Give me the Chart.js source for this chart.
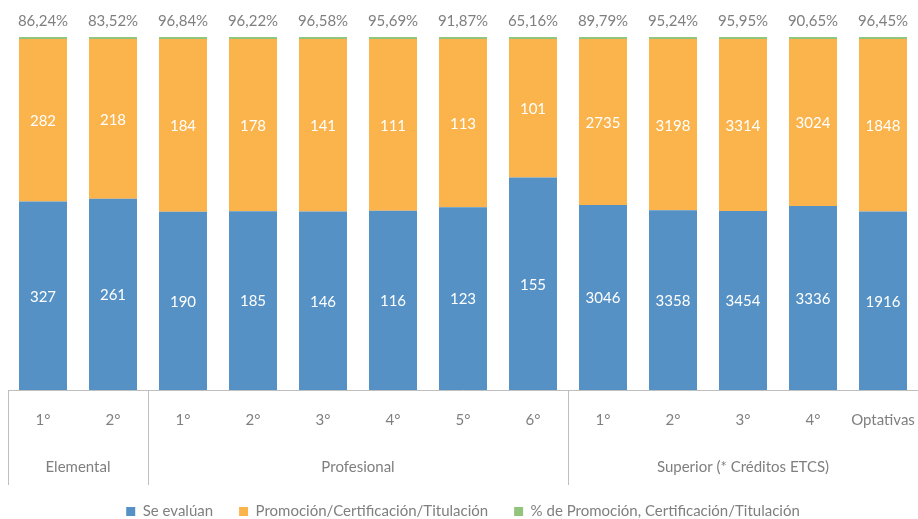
<!DOCTYPE html>
<html>
<head>
<meta charset="utf-8">
<script src="https://cdn.jsdelivr.net/npm/chart.js@4"></script>
<style>
  body { margin: 0; background: #fff; }
  #wrap { width: 918px; height: 519px; }
</style>
</head>
<body>
<div id="wrap"><canvas id="graph"></canvas></div>
<script>
const categories = ['1°', '2°', '1°', '2°', '3°', '4°', '5°', '6°', '1°', '2°', '3°', '4°', 'Optativas'];
const groupNames = ['Elemental', 'Profesional', 'Superior (* Créditos ETCS)'];
const groupSizes = [2, 6, 5];
const seEvaluan = [327, 261, 190, 185, 146, 116, 123, 155, 3046, 3358, 3454, 3336, 1916];
const promocion = [282, 218, 184, 178, 141, 111, 113, 101, 2735, 3198, 3314, 3024, 1848];
const porcentaje = [86.24, 83.52, 96.84, 96.22, 96.58, 95.69, 91.87, 65.16, 89.79, 95.24, 95.95, 90.65, 96.45];

// thin green cap on top of every bar (share of the 100% stack)
const greenBand = 0.6;
const grey = '#7f7f7f';
const font = 'Lato';

let blueShare = seEvaluan.map((v, i) => v / (v + promocion[i]) * (100 - greenBand));
let orangeShare = promocion.map((v, i) => v / (seEvaluan[i] + v) * (100 - greenBand));
let greenShare = porcentaje.map(() => greenBand);

const valueLabels = {
    id: 'valueLabels',
    afterDatasetsDraw(chart) {
        const ctx = chart.ctx;
        ctx.save();
        ctx.textAlign = 'center';
        ctx.textBaseline = 'middle';
        ctx.font = '15px ' + font;
        ctx.fillStyle = '#ffffff';
        [seEvaluan, promocion].forEach((arr, d) => {
            chart.getDatasetMeta(d).data.forEach((bar, i) => {
                ctx.fillText(arr[i], bar.x, (bar.y + bar.base) / 2 + 1);
            });
        });
        ctx.fillStyle = grey;
        chart.getDatasetMeta(2).data.forEach((bar, i) => {
            ctx.fillText(porcentaje[i].toFixed(2).replace('.', ',') + '%', bar.x, bar.y - 16);
        });
        ctx.restore();
    }
};

const groupAxis = {
    id: 'groupAxis',
    afterDraw(chart) {
        const ctx = chart.ctx;
        const xs = chart.scales.x;
        const area = chart.chartArea;
        const catW = xs.width / categories.length;
        ctx.save();
        ctx.strokeStyle = '#bfbfbf';
        ctx.lineWidth = 1;
        ctx.fillStyle = grey;
        ctx.font = '15px ' + font;
        ctx.textAlign = 'center';
        ctx.textBaseline = 'middle';
        let start = 0;
        groupSizes.forEach((size, g) => {
            let left = xs.getPixelForValue(start) - catW / 2;
            let right = xs.getPixelForValue(start + size - 1) + catW / 2;
            let lx = Math.round(left) + 0.5;
            ctx.beginPath();
            ctx.moveTo(lx, area.bottom);
            ctx.lineTo(lx, 485);
            ctx.stroke();
            ctx.fillText(groupNames[g], (left + right) / 2, 467);
            start += size;
        });
        ctx.restore();
    }
};

const shiftLegend = {
    id: 'shiftLegend',
    afterLayout(chart) {
        chart.legend.top += 10;
        chart.legend.bottom += 10;
    }
};

const config = {
    type: 'bar',
    data: {
        labels: categories,
        datasets: [{
            label: 'Se evalúan',
            backgroundColor: '#5591c4',
            data: blueShare,
        }, {
            label: 'Promoción/Certificación/Titulación',
            backgroundColor: '#fbb44c',
            data: orangeShare,
        }, {
            label: '% de Promoción, Certificación/Titulación',
            backgroundColor: '#93c47d',
            data: greenShare,
        }]
    },
    options: {
        responsive: true,
        maintainAspectRatio: false,
        animation: false,
        layout: { padding: { top: 37, left: 8, right: 0, bottom: 0 } },
        datasets: {
            bar: { categoryPercentage: 1, barPercentage: 0.686 }
        },
        scales: {
            x: {
                stacked: true,
                grid: { display: false, drawTicks: false },
                border: { display: true, color: '#bfbfbf' },
                ticks: { color: grey, font: { family: font, size: 15 }, padding: 21, maxRotation: 0, autoSkip: false },
                afterFit: s => { s.height = 78; s.paddingLeft = 0; s.paddingRight = 0; }
            },
            y: {
                stacked: true,
                display: false,
                min: 0,
                max: 100
            }
        },
        plugins: {
            tooltip: { enabled: false },
            legend: {
                position: 'bottom',
                labels: {
                    color: grey,
                    font: { family: font, size: 15 },
                    boxWidth: 9,
                    boxHeight: 9,
                    padding: 26
                }
            }
        }
    },
    plugins: [valueLabels, groupAxis, shiftLegend]
};

new Chart('graph', config);
</script>
</body>
</html>
